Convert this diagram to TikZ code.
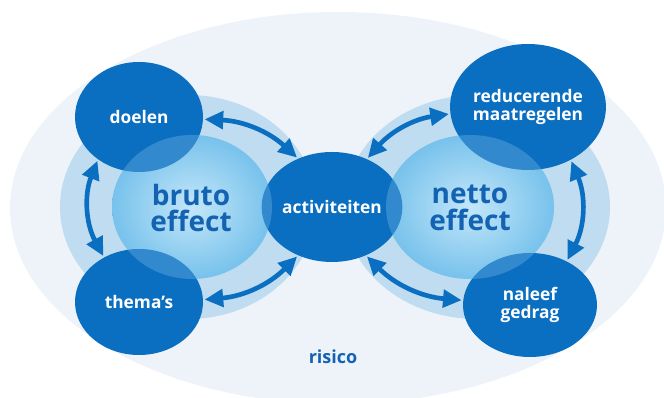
\documentclass[tikz,border=0pt]{standalone}
\usepackage{fontspec}
\setmainfont{Open Sans}
\usepackage{tikz}
\usetikzlibrary{arrows.meta,shapes.geometric}
\definecolor{donker}{HTML}{0B6FC1}
\definecolor{tekst}{HTML}{1462B2}
\definecolor{ring}{HTML}{BFDCF0}
\definecolor{achter}{HTML}{EEF3F9}
\definecolor{licht}{HTML}{C4E7F9}
\definecolor{midden}{HTML}{62B8E9}
\tikzstyle{bol}=[ellipse, fill=donker, text=white, inner sep=0pt, align=center, font=\bfseries\fontsize{13}{13}\selectfont]
\tikzstyle{effect}=[text=tekst, align=center, font=\bfseries\fontsize{21}{20}\selectfont]
\tikzstyle{pijl}=[{Triangle[length=14pt,width=13pt]}-{Triangle[length=14pt,width=13pt]}, line width=3.5pt, draw=donker, shorten <=1pt, shorten >=1pt]

\begin{document}
\begin{tikzpicture}[x=0.75pt, y=0.75pt]
\useasboundingbox (0,0) rectangle (664,398);

% achtergrond
\begin{scope}
\clip (0,0) rectangle (664,398);
\fill[achter] (338,190) ellipse [x radius=328, y radius=196];
\end{scope}

\fill[ring] (188,191) ellipse [x radius=128, y radius=112];
\fill[ring] (477,191) ellipse [x radius=133, y radius=112];
\shade[inner color=licht, outer color=midden] (192,191) ellipse [x radius=80, y radius=72];
\shade[inner color=licht, outer color=midden] (470,191) ellipse [x radius=84, y radius=72];

\node[bol, minimum width=96pt, minimum height=82.5pt] (doelen) at (139,281) {doelen};
\node[bol, minimum width=96pt, minimum height=79.5pt] (themas) at (139,96) {thema{\char"0027}s};
\node[bol, minimum width=102pt, minimum height=82.5pt] (act) at (332,191) {activiteiten};
\node[bol, minimum width=102pt, minimum height=94.5pt] (red) at (528,291) {reducerende\\maatregelen};
\node[bol, minimum width=100.5pt, minimum height=78pt] (naleef) at (530,93) {naleef\\gedrag};

\fill[licht, fill opacity=0.22] (192,191) ellipse [x radius=80, y radius=72];
\fill[licht, fill opacity=0.22] (470,191) ellipse [x radius=84, y radius=72];

\node[effect] (bruto) at (191,190) {bruto\\effect};
\node[effect] (netto) at (470,190) {netto\\effect};
\node[text=tekst, font=\bfseries\fontsize{13.5}{14}\selectfont] (risico) at (333,41) {risico};

\draw[pijl] (doelen.-2) to[bend left=20] (act.125);
\draw[pijl] (themas.2) to[bend right=20] (act.235);
\draw[pijl] (doelen.226) to[bend right=25] (themas.128);
\draw[pijl] (act.54) to[bend left=20] (red.185);
\draw[pijl] (act.305) to[bend right=20] (naleef.176);
\draw[pijl] (red.309) to[bend left=25] (naleef.50);

\end{tikzpicture}
\end{document}
